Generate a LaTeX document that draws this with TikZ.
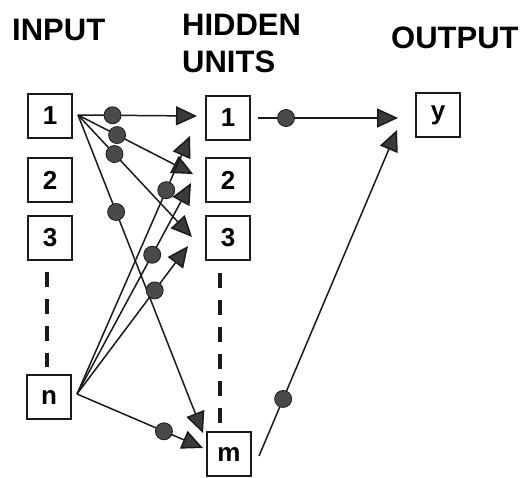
\documentclass[tikz,border=0pt]{standalone}
\usepackage{fontspec}
\setmainfont{Liberation Sans}
\usetikzlibrary{arrows.meta}
\definecolor{ink}{HTML}{1A1A1A}
\definecolor{dotc}{HTML}{4A4A4A}
\definecolor{arrowc}{HTML}{3A3A3A}
\begin{document}
\begin{tikzpicture}[x=1pt,y=-1pt,
  unit/.style={draw=ink, line width=2.5pt, minimum width=44pt, minimum height=44pt, inner sep=0pt,
    font=\fontsize{26}{26}\selectfont\bfseries},
  head/.style={inner sep=0pt, anchor=base west, font=\fontsize{31}{31}\selectfont\bfseries},
  conn/.style={draw=ink, line width=1.5pt, -{Triangle[length=21pt,width=19pt,fill=arrowc]}},
  wdot/.style={circle, fill=dotc, draw=ink, line width=0.8pt, minimum size=17pt, inner sep=0pt},
  dashline/.style={draw=ink, line width=3.5pt, dash pattern=on 15pt off 12pt}]
\useasboundingbox (0,0) rectangle (526,477);

% headings
\node[head] (tin) at (12,40) {INPUT};
\node[head] (thid) at (182,35) {HIDDEN};
\node[head] (tuni) at (182,72) {UNITS};
\node[head] (tout) at (391,48) {OUTPUT};

% units
\node[unit] (i1) at (50,116) {1};
\node[unit] (i2) at (50,180) {2};
\node[unit] (i3) at (50,238) {3};
\node[unit] (in) at (49,397) {n};
\node[unit] (h1) at (228,118) {1};
\node[unit] (h2) at (228,180) {2};
\node[unit] (h3) at (228,238) {3};
\node[unit] (hm) at (229,454) {m};
\node[unit] (y) at (438,115) {y};

% dashed ellipsis lines
\draw[dashline] (47,272) -- (47,367);
\draw[dashline] (220,273) -- (220,423);

% fan points and tips
\coordinate (o1) at (78,115);
\coordinate (on) at (77,394);
\coordinate (oh1) at (258,118);
\coordinate (ohm) at (259,456);
\coordinate (t11) at (197,116);
\coordinate (t12) at (193,174);
\coordinate (t13) at (192,237);
\coordinate (t1m) at (203,433);
\coordinate (tn1) at (190,136);
\coordinate (tn2) at (191,183);
\coordinate (tn3) at (188,246);
\coordinate (tnm) at (203,448);
\coordinate (ty1) at (398,118);
\coordinate (tym) at (397,130);

% connectors from input 1
\draw[conn] (o1) -- (t11) node[wdot,pos=0.29] (d1) {};
\draw[conn] (o1) -- (t12) node[wdot,pos=0.34] (d2) {};
\draw[conn] (o1) -- (t13) node[wdot,pos=0.32] (d3) {};
\draw[conn] (o1) -- (t1m) node[wdot,pos=0.305] (d4) {};
% connectors from input n
\draw[conn] (on) -- (tn1) node[wdot,pos=0.79] (d5) {};
\draw[conn] (on) -- (tn2) node[wdot,pos=0.66] (d6) {};
\draw[conn] (on) -- (tn3) node[wdot,pos=0.70] (d7) {};
\draw[conn] (on) -- (tnm) node[wdot,pos=0.69] (d8) {};
% hidden to output
\draw[conn] (oh1) -- (ty1) node[wdot,pos=0.2] (d9) {};
\draw[conn] (ohm) -- (tym) node[wdot,pos=0.175] (d10) {};
\end{tikzpicture}
\end{document}
